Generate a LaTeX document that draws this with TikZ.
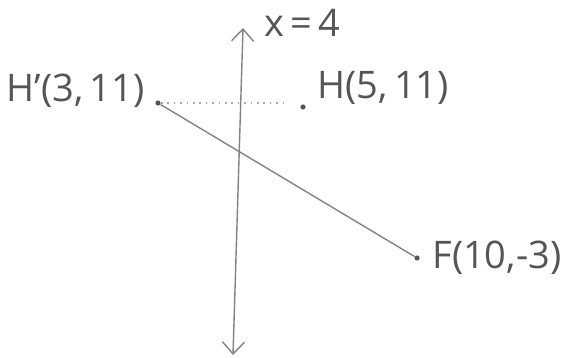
\documentclass[tikz,border=0pt]{standalone}
\usepackage{fontspec}
\setmainfont{Open Sans}
\usetikzlibrary{positioning, calc, arrows.meta}
\definecolor{penGray}{RGB}{85, 85, 85}
\definecolor{lineGray}{RGB}{130, 130, 130}

\begin{document}
\begin{tikzpicture}[
    x=0.5pt, y=-0.5pt,
    dot/.style={circle, fill=penGray, inner sep=0pt, minimum size=2.6pt},
    lbl/.style={font=\fontsize{19}{21}\selectfont, text=penGray, inner sep=0pt},
    axis/.style={{Straight Barb[length=6pt, width=11pt]}-{Straight Barb[length=6pt, width=11pt]},
                 draw=lineGray, line width=0.7pt},
    seg/.style={draw=lineGray, line width=0.7pt},
    guide/.style={draw=lineGray!70, dash pattern=on 0.8pt off 2.4pt, line width=0.8pt},
  ]
    \useasboundingbox (0,0) rectangle (567,358);

    % Mirror line x = 4
    \coordinate (Top) at (243,28);
    \coordinate (Bot) at (233,355);
    \draw[axis] (Bot) -- (Top);
    \node[lbl, anchor=west] (Mirror) at (264,23) {x\,=\,4};

    % Points
    \node[dot] (Hp) at (158,103) {};
    \node[dot] (H) at (303,107) {};
    \node[dot] (F) at (417,258) {};
    \node[lbl, left=5pt of Hp, yshift=6pt] (LHp) {H'(3,\,11)};
    \node[lbl, above right=1pt and 6pt of H, yshift=-1pt] (LH) {H(5,\,11)};
    \node[lbl, right=6pt of F] (LF) {F(10,-3)};

    % Connectors
    \coordinate (GuideEnd) at ($(Hp)+(127,0)$);
    \draw[guide] (Hp) -- (GuideEnd);
    \draw[seg] (Hp) -- (F);
  \end{tikzpicture}
\end{document}
